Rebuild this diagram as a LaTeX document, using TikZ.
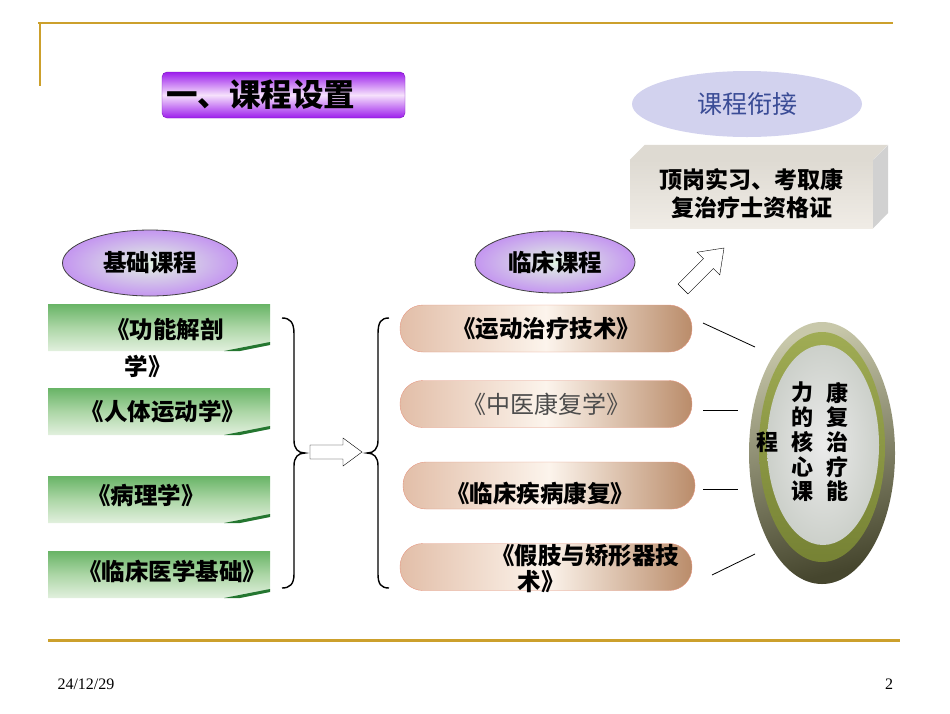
\documentclass[tikz,border=0pt]{standalone}
\usepackage{fontspec}
\setmainfont{Liberation Serif}
\newfontfamily\hei{Noto Sans CJK SC}
\usetikzlibrary{shapes.geometric}

\definecolor{gold}{RGB}{204,160,44}
\definecolor{leaf}{RGB}{104,180,102}
\definecolor{leafmid}{RGB}{172,214,166}
\definecolor{leafdark}{RGB}{36,118,48}
\definecolor{mint}{RGB}{226,240,222}
\definecolor{violet1}{RGB}{156,28,236}
\definecolor{violet2}{RGB}{246,226,252}
\definecolor{lilac}{RGB}{196,150,240}
\definecolor{lilacpale}{RGB}{226,244,226}
\definecolor{lavender}{RGB}{210,210,238}
\definecolor{navyblue}{RGB}{58,76,150}
\definecolor{sand}{RGB}{240,236,230}
\definecolor{sanddark}{RGB}{222,218,210}
\definecolor{tan1}{RGB}{226,190,168}
\definecolor{tan2}{RGB}{252,244,236}
\definecolor{tan3}{RGB}{186,140,106}
\definecolor{salmon}{RGB}{228,150,128}
\definecolor{olive1}{RGB}{200,200,170}
\definecolor{olive2}{RGB}{70,70,46}
\definecolor{moss1}{RGB}{160,172,84}
\definecolor{moss2}{RGB}{118,130,52}
\definecolor{mist}{RGB}{204,208,202}

\tikzset{
  kfont/.style={font=\hei\bfseries\fontsize{23.5}{26}\selectfont},
  course/.style={ellipse, draw=black!75, thick, inner color=lilacpale, outer color=lilac, inner sep=0pt, kfont},
  pill/.style={rounded corners=23pt, draw=salmon, left color=tan1, right color=tan3, middle color=tan2, minimum width=292, minimum height=47},
  lead/.style={thick},
  brace/.style={line width=1.4pt},
}

\begin{document}
\begin{tikzpicture}[x=1pt,y=-1pt]
\useasboundingbox (0,0) rectangle (950,713);
%\draw[step=50,gray,very thin,dashed] (0,0) grid (950,713);

% gold rules
\draw[gold,line width=2.5pt] (38,23) -- (893,23);
\draw[gold,line width=1.5pt] (40,22) -- (40,86);
\draw[gold,line width=3pt] (48,640) -- (900,640);
\node[anchor=west,font=\fontsize{16}{18}\selectfont] (date) at (54,684) {24/12/29};
\node[font=\fontsize{16}{18}\selectfont] (page) at (889,684) {2};

% title
\node[rounded corners=5pt, draw=violet1!80!black, top color=violet1, bottom color=violet1, middle color=violet2,
      minimum height=46, text width=235, inner xsep=4pt, align=left,
      font=\hei\bfseries\fontsize{31.5}{34}\selectfont] (title) at (283.5,95) {一、课程设置};

% basic courses
\node[course, minimum width=175, minimum height=66] (jichu) at (150,263) {基础课程};
\foreach \y in {304,388,476,551} {
  \shade[top color=leaf, bottom color=mint, middle color=leafmid] (48,\y) -- (270,\y) -- (270,\y+39) -- (226,\y+47) -- (48,\y+47) -- cycle;
  \fill[leafdark] (224,\y+47) -- (270,\y+38) -- (270,\y+41) -- (240,\y+47) -- cycle;
}
\node[kfont] (gongneng) at (165,330) {《功能解剖};
\node[kfont] (gongneng2) at (148,366) {学》};
\node[kfont] (renti) at (163,412) {《人体运动学》};
\node[kfont] (bingli) at (146,495) {《病理学》};
\node[kfont] (linyi) at (172,571) {《临床医学基础》};

% braces and arrow
\draw[brace] (282,318) .. controls (290,318) and (294,322) .. (294,334) -- (294,440)
  .. controls (294,449) and (298,453) .. (305,453) .. controls (298,453) and (294,457) .. (294,466)
  -- (294,574) .. controls (294,584) and (290,588) .. (282,588);
\draw[fill=white] (310,445) -- (343,445) -- (343,438) -- (362,452) -- (343,466) -- (343,459) -- (310,459) -- cycle;
\draw[brace] (389,318) .. controls (381,318) and (378,322) .. (378,334) -- (378,440)
  .. controls (378,449) and (374,453) .. (367,453) .. controls (374,453) and (378,457) .. (378,466)
  -- (378,574) .. controls (378,584) and (381,588) .. (389,588);

% clinical courses
\node[course, minimum width=160, minimum height=62] (linchuang) at (555,262) {临床课程};
\node[pill] (yundong) at (546,328.5) {};
\node[pill] (zhongyi) at (546,404) {};
\node[pill] (jibing) at (549,485.5) {};
\node[pill] (jiazhi) at (546,567) {};
\node[kfont] (yundongt) at (yundong) {《运动治疗技术》};
\node[font=\hei\fontsize{24}{26}\selectfont, text=black!70] (zhongyit) at (zhongyi) {《中医康复学》};
\node[kfont] (jibingt) at (540,494) {《临床疾病康复》};
\node[kfont] (jiazhit) at (585,556) {《假肢与矫形器技};
\node[kfont] (jiazhit2) at (541,582) {术》};

% links to the core ring
\coordinate (l1a) at (703,323); \coordinate (l1b) at (755,347);
\coordinate (l2a) at (703,410); \coordinate (l2b) at (738,410);
\coordinate (l3a) at (703,489); \coordinate (l3b) at (738,489);
\coordinate (l4a) at (712,575); \coordinate (l4b) at (755,554);
\draw[lead] (l1a) -- (l1b);
\draw[lead] (l2a) -- (l2b);
\draw[lead] (l3a) -- (l3b);
\draw[lead] (l4a) -- (l4b);

% core ring
\shade[top color=olive1, bottom color=olive2, shading angle=15] (822,453) ellipse [x radius=73, y radius=131];
\shade[top color=moss1, bottom color=moss2] (822,447) ellipse [x radius=63, y radius=115];
\shade[inner color=white!92!black, outer color=mist] (823,445) ellipse [x radius=56, y radius=100];
\node[align=center, font=\hei\bfseries\fontsize{22}{24.7}\selectfont] (col1) at (837,442) {康\\复\\治\\疗\\能};
\node[align=center, font=\hei\bfseries\fontsize{22}{24.7}\selectfont] (col2) at (802,442) {力\\的\\核\\心\\课};
\node[align=center, font=\hei\bfseries\fontsize{22}{24.7}\selectfont] (cheng) at (767,442) {程};

% next step
\node[ellipse, fill=lavender, minimum width=230, minimum height=66, text=navyblue,
      font=\hei\fontsize{25}{28}\selectfont] (xianjie) at (747,104) {课程衔接};
\node[top color=sanddark, bottom color=sand, minimum width=243, minimum height=68, align=center,
      font=\hei\bfseries\fontsize{23}{28}\selectfont] (dinggang) at (751.5,194) {顶岗实习、考取康\\复治疗士资格证};
\fill[sanddark] (dinggang.north west) -- ++(15,-15) -- ++(243,0) -- (dinggang.north east) -- cycle;
\fill[black!18] (dinggang.north east) -- ++(15,-15) -- ++(0,68) -- (dinggang.south east) -- cycle;
\begin{scope}[shift={(683,289)}, rotate=45]
\draw[fill=white] (0,-7) -- (36,-7) -- (36,-16) -- (58,0) -- (36,16) -- (36,7) -- (0,7) -- cycle;
\end{scope}
\end{tikzpicture}
\end{document}
